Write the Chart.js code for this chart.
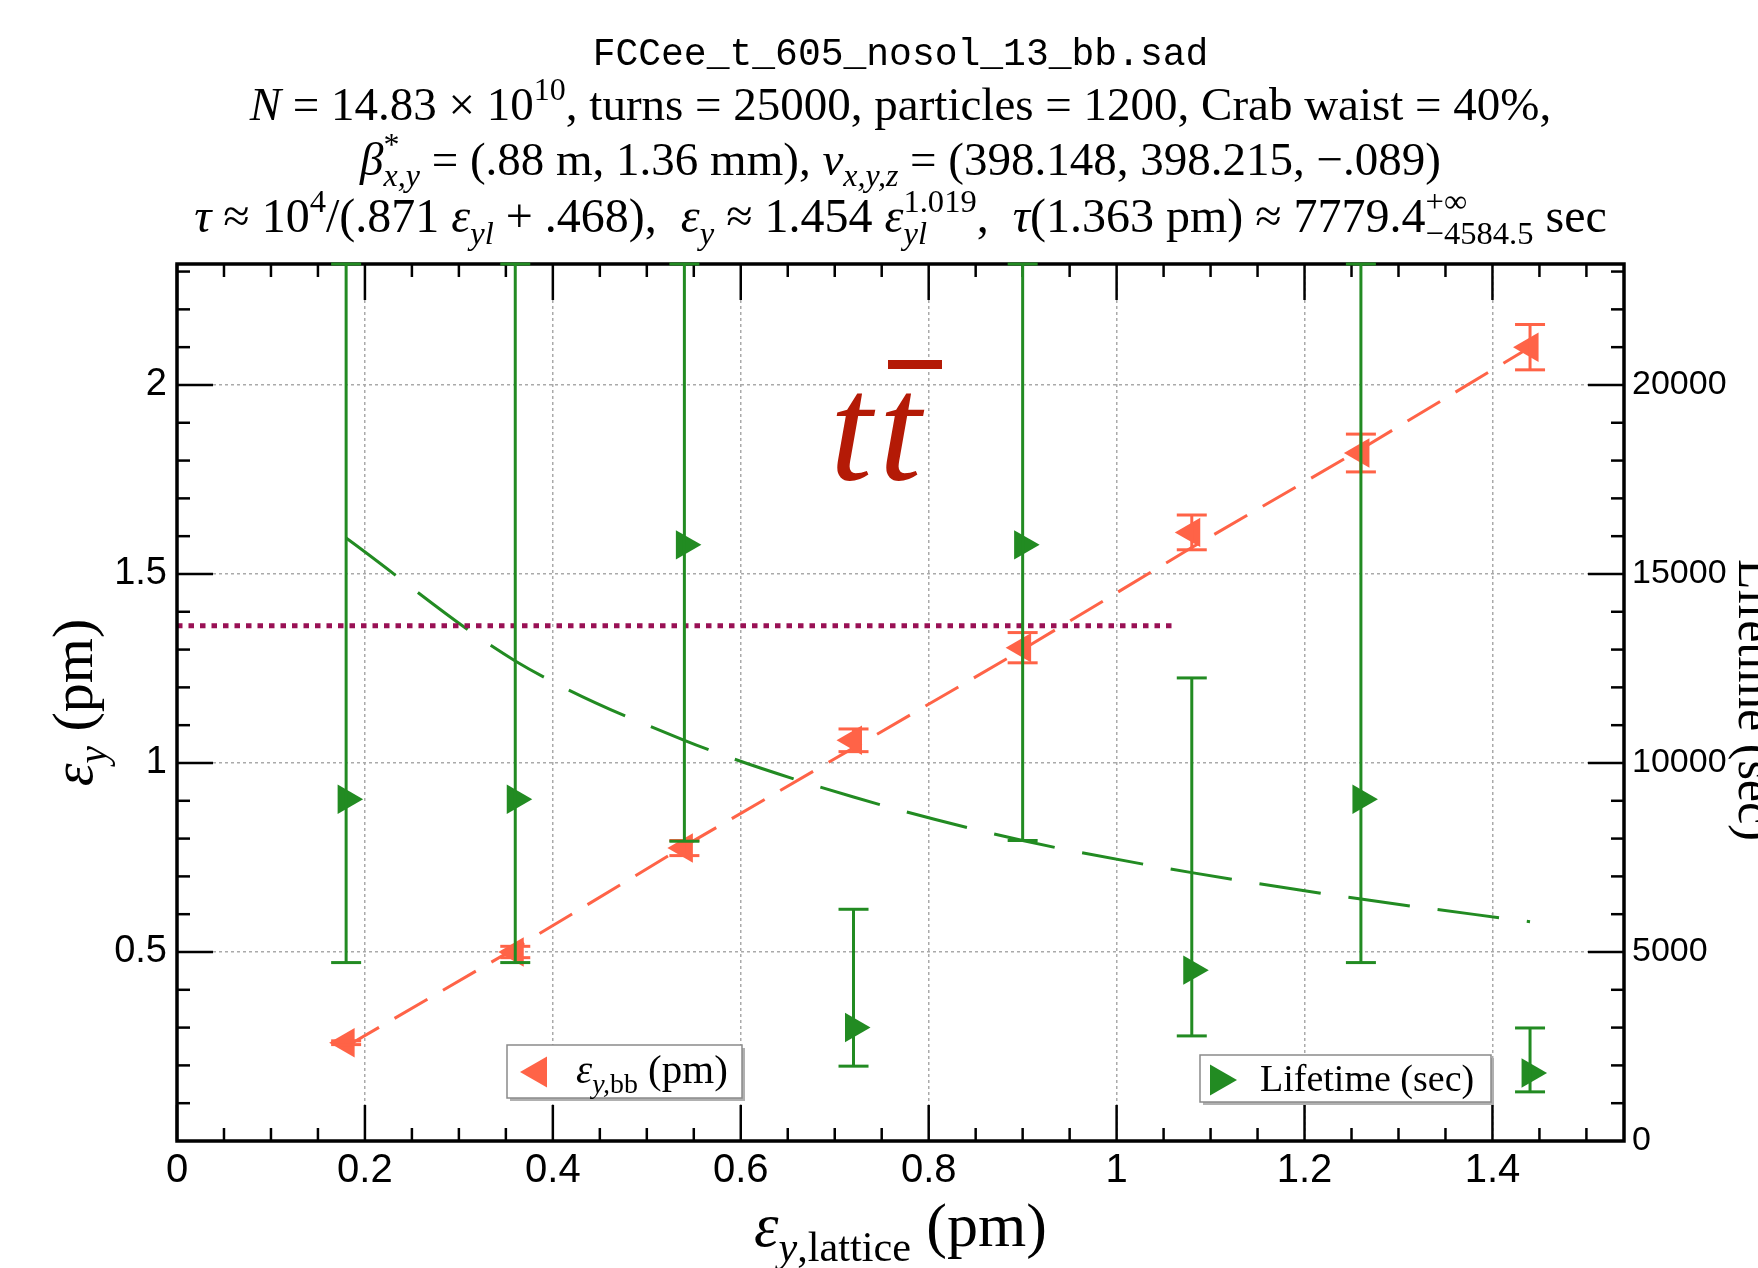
<!DOCTYPE html>
<html>
<head>
<meta charset="utf-8">
<script src="https://cdn.jsdelivr.net/npm/chart.js@4.4.0/dist/chart.umd.min.js"></script>
<style>
  html, body { margin: 0; padding: 0; background: #fff; overflow: hidden; }
  canvas { display: block; }
</style>
</head>
<body>
<canvas id="plot" width="1758" height="1268"></canvas>
<script>
// lattice emittance (pm), shared by both series
const latticeX = [0.18, 0.36, 0.54, 0.72, 0.90, 1.08, 1.26, 1.44];
// beam-beam emittance (pm) and its error
const emitBB = [0.26, 0.50, 0.775, 1.06, 1.305, 1.61, 1.82, 2.10];
const emitBBErr = [0.005, 0.015, 0.02, 0.03, 0.04, 0.046, 0.05, 0.06];
// lifetime (sec) with lower / upper limits (Infinity = unbounded)
const lifetime = [9040, 9040, 15770, 3000, 15770, 4520, 9040, 1800];
const lifetimeLow = [4720, 4720, 7930, 1980, 7950, 2780, 4720, 1300];
const lifetimeHigh = [Infinity, Infinity, Infinity, 6130, Infinity, 12250, Infinity, 2990];
// fitted curves
const emitFit = [0.25, 0.51, 0.78, 1.04, 1.30, 1.57, 1.83, 2.10];
const lifetimeFit = [15950, 12700, 10600, 9100, 7950, 7100, 6400, 5800];
// reference emittance line
const refEmit = 1.363;
const refSpan = [0, 1.06];
// ticks
const xTicks = [0, 0.2, 0.4, 0.6, 0.8, 1, 1.2, 1.4];
const yTicks = [0.5, 1, 1.5, 2];
const y2Ticks = [0, 5000, 10000, 15000, 20000];

const RED = '#ff6347';
const GREEN = '#228b22';
const PURPLE = '#991155';
const SERIF = '"Liberation Serif", "DejaVu Serif", serif';
const SANS = '"Liberation Sans", Arial, sans-serif';
const MONO = '"Liberation Mono", "DejaVu Sans Mono", monospace';

const pts = (xs, ys) => xs.map((x, i) => ({ x: x, y: ys[i] }));

// --- rich text (sub / superscripts) ---
function fontFor(st, size) {
  const k = /[\^_]/.test(st) ? 0.68 : 1;
  const fam = st.includes('m') ? MONO : SERIF;
  return (st.includes('i') ? 'italic ' : '') + (size * k).toFixed(1) + 'px ' + fam;
}
function partWidth(ctx, p, size) {
  if (Array.isArray(p[0])) {
    return Math.max.apply(null, p.map(q => { ctx.font = fontFor(q[1], size); return ctx.measureText(q[0]).width; }));
  }
  ctx.font = fontFor(p[1], size);
  return ctx.measureText(p[0]).width;
}
function drawRich(ctx, parts, x, y, size, align) {
  const ws = parts.map(p => partWidth(ctx, p, size));
  const total = ws.reduce((a, b) => a + b, 0);
  let cx = align === 'center' ? x - total / 2 : x;
  ctx.textAlign = 'left';
  ctx.textBaseline = 'alphabetic';
  parts.forEach((p, k) => {
    const list = Array.isArray(p[0]) ? p : [p];
    list.forEach(q => {
      ctx.font = fontFor(q[1], size);
      const dy = q[1].includes('^') ? -0.42 * size : q[1].includes('_') ? 0.24 * size : 0;
      ctx.fillText(q[0], cx, y + dy);
    });
    cx += ws[k];
  });
}

const titleLines = [
  [['FCCee_t_605_nosol_13_bb.sad', 'm']],
  [['N', 'i'], [' = 14.83 × 10', ''], ['10', '^'], [', turns = 25000, particles = 1200, Crab waist = 40%,', '']],
  [['β', 'i'], [['*', '^'], ['x,y', '_i']], [' = (.88 m, 1.36 mm), ', ''], ['ν', 'i'], ['x,y,z', '_i'],
   [' = (398.148, 398.215, −.089)', '']],
  [['τ', 'i'], [' ≈ 10', ''], ['4', '^'], ['/(.871 ', ''], ['ε', 'i'], ['yl', '_i'], [' + .468),  ', ''],
   ['ε', 'i'], ['y', '_i'], [' ≈ 1.454 ', ''], ['ε', 'i'], [['1.019', '^'], ['yl', '_i']], [',  ', ''],
   ['τ', 'i'], ['(1.363 pm) ≈ 7779.4', ''], [['+∞', '^'], ['−4584.5', '_']], [' sec', '']]
];

function triangle(ctx, x, y, r, rot) {
  const a = rot * Math.PI / 180;
  ctx.beginPath();
  for (let k = 0; k < 3; k++) {
    const t = a + k * 2 * Math.PI / 3;
    ctx.lineTo(x + Math.sin(t) * r, y - Math.cos(t) * r);
  }
  ctx.closePath();
  ctx.fill();
}

function legendBox(ctx, x, y, w, h) {
  ctx.fillStyle = '#b0b0b0';
  ctx.fillRect(x + 3, y + 3, w, h);
  ctx.fillStyle = '#fff';
  ctx.fillRect(x, y, w, h);
  ctx.strokeStyle = '#8a8a8a';
  ctx.lineWidth = 1.5;
  ctx.strokeRect(x, y, w, h);
}

const decor = {
  id: 'decor',
  afterDatasetsDraw(chart) {
    const { ctx, chartArea: a, scales } = chart;
    const sx = scales.x, sy = scales.y, s2 = scales.y2;
    ctx.save();

    // frame and inward ticks
    ctx.strokeStyle = '#000';
    ctx.lineWidth = 3.5;
    ctx.strokeRect(a.left, a.top, a.right - a.left, a.bottom - a.top);
    ctx.lineWidth = 2.5;
    const seg = (x1, y1, x2, y2) => { ctx.beginPath(); ctx.moveTo(x1, y1); ctx.lineTo(x2, y2); ctx.stroke(); };
    for (let k = 0; k * 0.05 <= sx.max + 1e-9; k++) {
      const px = sx.getPixelForValue(k * 0.05);
      const len = k % 4 === 0 ? 36 : 13;
      seg(px, a.bottom, px, a.bottom - len);
      seg(px, a.top, px, a.top + len);
    }
    for (let k = 1; k * 0.1 <= sy.max + 1e-9; k++) {
      const py = sy.getPixelForValue(k * 0.1);
      seg(a.left, py, a.left + (k % 5 === 0 ? 36 : 13), py);
    }
    for (let k = 1; k * 1000 <= s2.max + 1e-9; k++) {
      const py = s2.getPixelForValue(k * 1000);
      seg(a.right, py, a.right - (k % 5 === 0 ? 36 : 13), py);
    }

    // error bars
    ctx.lineWidth = 3;
    const bar = (color, px, yLo, yHi) => {
      const top = Math.max(a.top, yHi), bot = Math.min(a.bottom, yLo);
      ctx.strokeStyle = color;
      seg(px, bot, px, top);
      seg(px - 15, top, px + 15, top);
      seg(px - 15, bot, px + 15, bot);
    };
    latticeX.forEach((xv, i) => {
      const px = sx.getPixelForValue(xv);
      bar(RED, px, sy.getPixelForValue(emitBB[i] - emitBBErr[i]), sy.getPixelForValue(emitBB[i] + emitBBErr[i]));
    });
    latticeX.forEach((xv, i) => {
      const px = sx.getPixelForValue(xv);
      const hi = isFinite(lifetimeHigh[i]) ? s2.getPixelForValue(lifetimeHigh[i]) : a.top;
      bar(GREEN, px, s2.getPixelForValue(lifetimeLow[i]), hi);
    });

    // title
    ctx.fillStyle = '#000';
    const cx = (a.left + a.right) / 2;
    drawRich(ctx, titleLines[0], cx, 65, 38, 'center');
    drawRich(ctx, titleLines[1], cx, 120, 47, 'center');
    drawRich(ctx, titleLines[2], cx, 175, 47, 'center');
    drawRich(ctx, titleLines[3], cx, 232, 48, 'center');

    // axis titles
    drawRich(ctx, [['ε', 'i'], ['y', '_i'], [',lattice', '_'], [' (pm)', '']], cx, 1246, 62, 'center');
    ctx.save();
    ctx.translate(92, (a.top + a.bottom) / 2);
    ctx.rotate(-Math.PI / 2);
    drawRich(ctx, [['ε', 'i'], ['y', '_i'], [' (pm)', '']], 0, 0, 58, 'center');
    ctx.restore();
    ctx.save();
    ctx.translate(1739, 700);
    ctx.rotate(Math.PI / 2);
    drawRich(ctx, [['Lifetime (sec)', '']], 0, 0, 50, 'center');
    ctx.restore();

    // t tbar label
    ctx.fillStyle = '#b41a06';
    ctx.font = 'italic 152px ' + SERIF;
    ctx.textAlign = 'left';
    ctx.fillText('t', 830, 480);
    ctx.fillText('t', 879, 480);
    ctx.fillRect(888, 360, 54, 9);

    // legends
    legendBox(ctx, 507, 1045, 235, 53);
    ctx.fillStyle = RED;
    triangle(ctx, 538, 1072, 18, -90);
    ctx.fillStyle = '#000';
    drawRich(ctx, [['ε', 'i'], ['y,', '_i'], ['bb', '_'], [' (pm)', '']], 576, 1083, 41, 'left');

    legendBox(ctx, 1200, 1055, 291, 47);
    ctx.fillStyle = GREEN;
    triangle(ctx, 1219, 1080, 18, 90);
    ctx.fillStyle = '#000';
    drawRich(ctx, [['Lifetime (sec)', '']], 1260, 1091, 38, 'left');

    ctx.restore();
  }
};

new Chart(document.getElementById('plot'), {
  type: 'scatter',
  data: {
    datasets: [
      {
        label: 'emitBB', data: pts(latticeX, emitBB), yAxisID: 'y',
        pointStyle: 'triangle', rotation: -90, pointRadius: 17,
        backgroundColor: RED, borderColor: RED, borderWidth: 0
      },
      {
        label: 'lifetime', data: pts(latticeX, lifetime), yAxisID: 'y2',
        pointStyle: 'triangle', rotation: 90, pointRadius: 17,
        backgroundColor: GREEN, borderColor: GREEN, borderWidth: 0
      },
      {
        label: 'ref', data: pts(refSpan, [refEmit, refEmit]), yAxisID: 'y',
        showLine: true, pointRadius: 0, borderColor: PURPLE, borderWidth: 5, borderDash: [5.5, 6]
      },
      {
        label: 'emitFit', data: pts(latticeX, emitFit), yAxisID: 'y',
        showLine: true, pointRadius: 0, borderColor: RED, borderWidth: 3, borderDash: [38, 18]
      },
      {
        label: 'lifetimeFit', data: pts(latticeX, lifetimeFit), yAxisID: 'y2',
        showLine: true, pointRadius: 0, borderColor: GREEN, borderWidth: 3, borderDash: [62, 28],
        cubicInterpolationMode: 'monotone'
      }
    ]
  },
  options: {
    responsive: false,
    animation: false,
    devicePixelRatio: 1,
    layout: { padding: { top: 264, left: 0, right: 0, bottom: 0 }, autoPadding: false },
    plugins: { legend: { display: false }, tooltip: { enabled: false }, title: { display: false } },
    scales: {
      x: {
        type: 'linear', position: 'bottom', min: 0, max: 1.54,
        afterBuildTicks: s => { s.ticks = xTicks.map(v => ({ value: v })); },
        afterFit: s => { s.height = 127; },
        ticks: { color: '#000', padding: 6, font: { family: SANS, size: 40 }, callback: v => String(v) },
        grid: { color: '#aaa', lineWidth: 1.5, drawTicks: false },
        border: { display: false, dash: [3, 3] }
      },
      y: {
        type: 'linear', position: 'left', min: 0, max: 2.32,
        afterBuildTicks: s => { s.ticks = yTicks.map(v => ({ value: v })); },
        afterFit: s => { s.width = 177; },
        ticks: { color: '#000', padding: 10, font: { family: SANS, size: 38 }, callback: v => String(v) },
        grid: { color: '#aaa', lineWidth: 1.5, drawTicks: false },
        border: { display: false, dash: [3, 3] }
      },
      y2: {
        type: 'linear', position: 'right', min: 0, max: 23200,
        afterBuildTicks: s => { s.ticks = y2Ticks.map(v => ({ value: v })); },
        afterFit: s => { s.width = 134; },
        ticks: { color: '#000', padding: 8, font: { family: SANS, size: 34 }, callback: v => String(v) },
        grid: { display: false, drawTicks: false },
        border: { display: false }
      }
    }
  },
  plugins: [decor]
});
</script>
</body>
</html>
